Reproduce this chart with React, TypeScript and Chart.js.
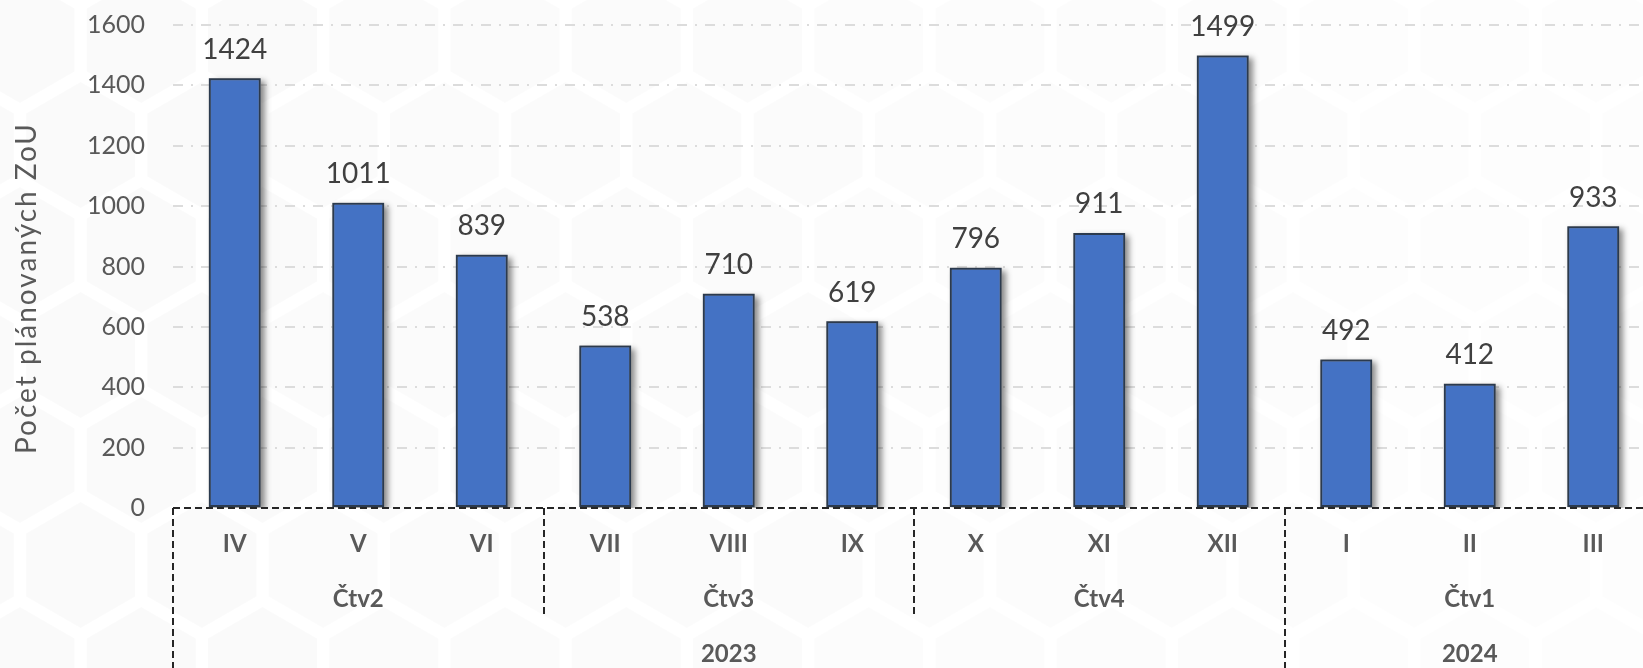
import React, { useEffect, useRef } from "react";
import { Chart, registerables } from "chart.js";

Chart.register(...registerables);

// ---- data ----
const months = ["IV", "V", "VI", "VII", "VIII", "IX", "X", "XI", "XII", "I", "II", "III"];
const values = [1424, 1011, 839, 538, 710, 619, 796, 911, 1499, 492, 412, 933];
const quarters = ["Čtv2", "Čtv3", "Čtv4", "Čtv1"];
const quarterSpans = [3, 3, 3, 3];
const years = ["2023", "2024"];
const yearSpans = [9, 3];
const yMin = 0;
const yMax = 1600;
const yStep = 200;
const yTitle = "Počet plánovaných ZoU";

const FONT = "Lato, 'Noto Sans', sans-serif";
const TEXT = "#595959";

function hexPath(ctx: CanvasRenderingContext2D, cx: number, cy: number, r: number) {
  ctx.beginPath();
  for (let k = 0; k < 6; k++) {
    const a = Math.PI / 6 + (k * Math.PI) / 3;
    const px = cx + r * Math.cos(a);
    const py = cy + r * Math.sin(a);
    if (k === 0) ctx.moveTo(px, py);
    else ctx.lineTo(px, py);
  }
  ctx.closePath();
}

const overlay = {
  id: "overlay",
  beforeDraw(chart: any) {
    const ctx = chart.ctx;
    const W = chart.width;
    const H = chart.height;
    ctx.save();
    ctx.fillStyle = "#ffffff";
    ctx.fillRect(0, 0, W, H);
    const R = 70;
    const w = Math.sqrt(3) * R;
    const dy = 1.5 * R;
    for (let row = -1; row * dy < H + R; row++) {
      for (let col = -1; col * w < W + w; col++) {
        const cx = col * w + (row % 2 ? w / 2 : 0) + 20;
        const cy = row * dy + 40;
        const fade = Math.max(0, 1 - cx / (W * 1.1));
        ctx.fillStyle = `rgba(0,0,0,${0.006 + 0.014 * fade})`;
        hexPath(ctx, cx, cy, R - 7);
        ctx.fill();
      }
    }
    ctx.restore();
  },
  beforeDatasetsDraw(chart: any) {
    const ctx = chart.ctx;
    const { left, right, top, bottom } = chart.chartArea;
    const meta = chart.getDatasetMeta(0);
    ctx.save();
    ctx.beginPath();
    ctx.rect(left, top - 10, right - left + 20, bottom - top + 10);
    ctx.clip();
    ctx.shadowColor = "rgba(0,0,0,0.45)";
    ctx.shadowBlur = 6;
    ctx.shadowOffsetX = 4;
    ctx.shadowOffsetY = 3;
    ctx.fillStyle = "#888";
    meta.data.forEach((bar: any) => {
      const p = bar.getProps(["x", "y", "base", "width"], true);
      ctx.fillRect(p.x - p.width / 2, p.y, p.width, p.base - p.y);
    });
    ctx.restore();
  },
  afterDatasetsDraw(chart: any) {
    const ctx = chart.ctx;
    const { left, right, bottom } = chart.chartArea;
    const xs = chart.scales.x;
    const meta = chart.getDatasetMeta(0);

    // data labels
    ctx.save();
    ctx.font = `28px ${FONT}`;
    ctx.fillStyle = "#404040";
    ctx.textAlign = "center";
    ctx.textBaseline = "alphabetic";
    meta.data.forEach((bar: any, i: number) => {
      const p = bar.getProps(["x", "y"], true);
      ctx.fillText(String(values[i]), p.x, p.y - 19.5);
    });
    ctx.restore();

    // dashed axis line + separators
    ctx.save();
    ctx.strokeStyle = "#262626";
    ctx.lineWidth = 2;
    ctx.setLineDash([7, 4]);
    ctx.beginPath();
    ctx.moveTo(left, bottom);
    ctx.lineTo(right, bottom);
    ctx.stroke();

    const boundary = (i: number) =>
      i === 0 ? left : i >= months.length ? right : (xs.getPixelForValue(i - 1) + xs.getPixelForValue(i)) / 2;

    const yearBounds: number[] = [0];
    yearSpans.reduce((acc, s) => { yearBounds.push(acc + s); return acc + s; }, 0);
    const quarterBounds: number[] = [0];
    quarterSpans.reduce((acc, s) => { quarterBounds.push(acc + s); return acc + s; }, 0);

    const H = chart.height;
    yearBounds.forEach((b) => {
      const x = Math.round(boundary(b));
      ctx.beginPath();
      ctx.moveTo(x, bottom);
      ctx.lineTo(x, H);
      ctx.stroke();
    });
    quarterBounds.forEach((b) => {
      if (yearBounds.includes(b)) return;
      const x = Math.round(boundary(b));
      ctx.beginPath();
      ctx.moveTo(x, bottom);
      ctx.lineTo(x, 616);
      ctx.stroke();
    });
    ctx.restore();

    // group labels
    ctx.save();
    ctx.font = `bold 24px ${FONT}`;
    ctx.fillStyle = TEXT;
    ctx.textAlign = "center";
    ctx.textBaseline = "middle";
    let start = 0;
    quarters.forEach((q, qi) => {
      const span = quarterSpans[qi];
      const cx = (boundary(start) + boundary(start + span)) / 2;
      ctx.fillText(q, cx, 599);
      start += span;
    });
    start = 0;
    years.forEach((y, yi) => {
      const span = yearSpans[yi];
      const cx = (boundary(start) + boundary(start + span)) / 2;
      ctx.fillText(y, cx, 654);
      start += span;
    });
    ctx.restore();
  },
  afterDraw(chart: any) {
    const ctx = chart.ctx;
    ctx.save();
    ctx.translate(36, 288);
    ctx.rotate(-Math.PI / 2);
    ctx.font = `28px ${FONT}`;
    (ctx as any).letterSpacing = "2px";
    ctx.fillStyle = TEXT;
    ctx.textAlign = "center";
    ctx.textBaseline = "alphabetic";
    ctx.fillText(yTitle, 0, 0);
    ctx.restore();
  },
};

export default function App() {
  const ref = useRef<HTMLCanvasElement | null>(null);

  useEffect(() => {
    if (!ref.current) return;
    const chart = new Chart(ref.current, {
      type: "bar",
      data: {
        labels: months,
        datasets: [
          {
            data: values,
            backgroundColor: "#4472C4",
            borderColor: "#2b3a4e",
            borderWidth: 2,
            borderSkipped: false,
            barPercentage: 0.42,
            categoryPercentage: 1,
          },
        ],
      },
      options: {
        animation: false,
        responsive: true,
        maintainAspectRatio: false,
        layout: { padding: { top: 25, right: 0, bottom: 0, left: 0 } },
        plugins: {
          legend: { display: false },
          tooltip: { enabled: false },
          title: { display: false },
        },
        scales: {
          x: {
            type: "category",
            offset: true,
            grid: { display: false, drawTicks: false },
            border: { display: false },
            ticks: {
              autoSkip: false,
              maxRotation: 0,
              padding: 22,
              color: TEXT,
              font: { family: FONT, size: 24, weight: "bold" },
            },
            afterFit: (s: any) => {
              s.height = 160;
            },
          },
          y: {
            min: yMin,
            max: yMax,
            ticks: {
              stepSize: yStep,
              padding: 28,
              color: TEXT,
              font: { family: FONT, size: 25 },
              callback: (v: any) => String(v),
            },
            grid: {
              drawTicks: false,
              lineWidth: 2,
              color: (c: any) => (c.tick && c.tick.value === 0 ? "rgba(0,0,0,0)" : "#dcdcdc"),
            },
            border: { display: false, dash: [10, 8, 2, 8] },
            afterFit: (s: any) => {
              s.width = 173;
              s.paddingTop = 0;
              s.paddingBottom = 0;
            },
          },
        },
      },
      plugins: [overlay],
    });
    return () => chart.destroy();
  }, []);

  return (
    <div
      style={{
        position: "fixed",
        left: 0,
        top: 0,
        width: 1643,
        height: 668,
        overflow: "hidden",
        background: "#ffffff",
      }}
    >
      <div style={{ position: "relative", width: 1655, height: 668 }}>
        <canvas ref={ref} />
      </div>
    </div>
  );
}
